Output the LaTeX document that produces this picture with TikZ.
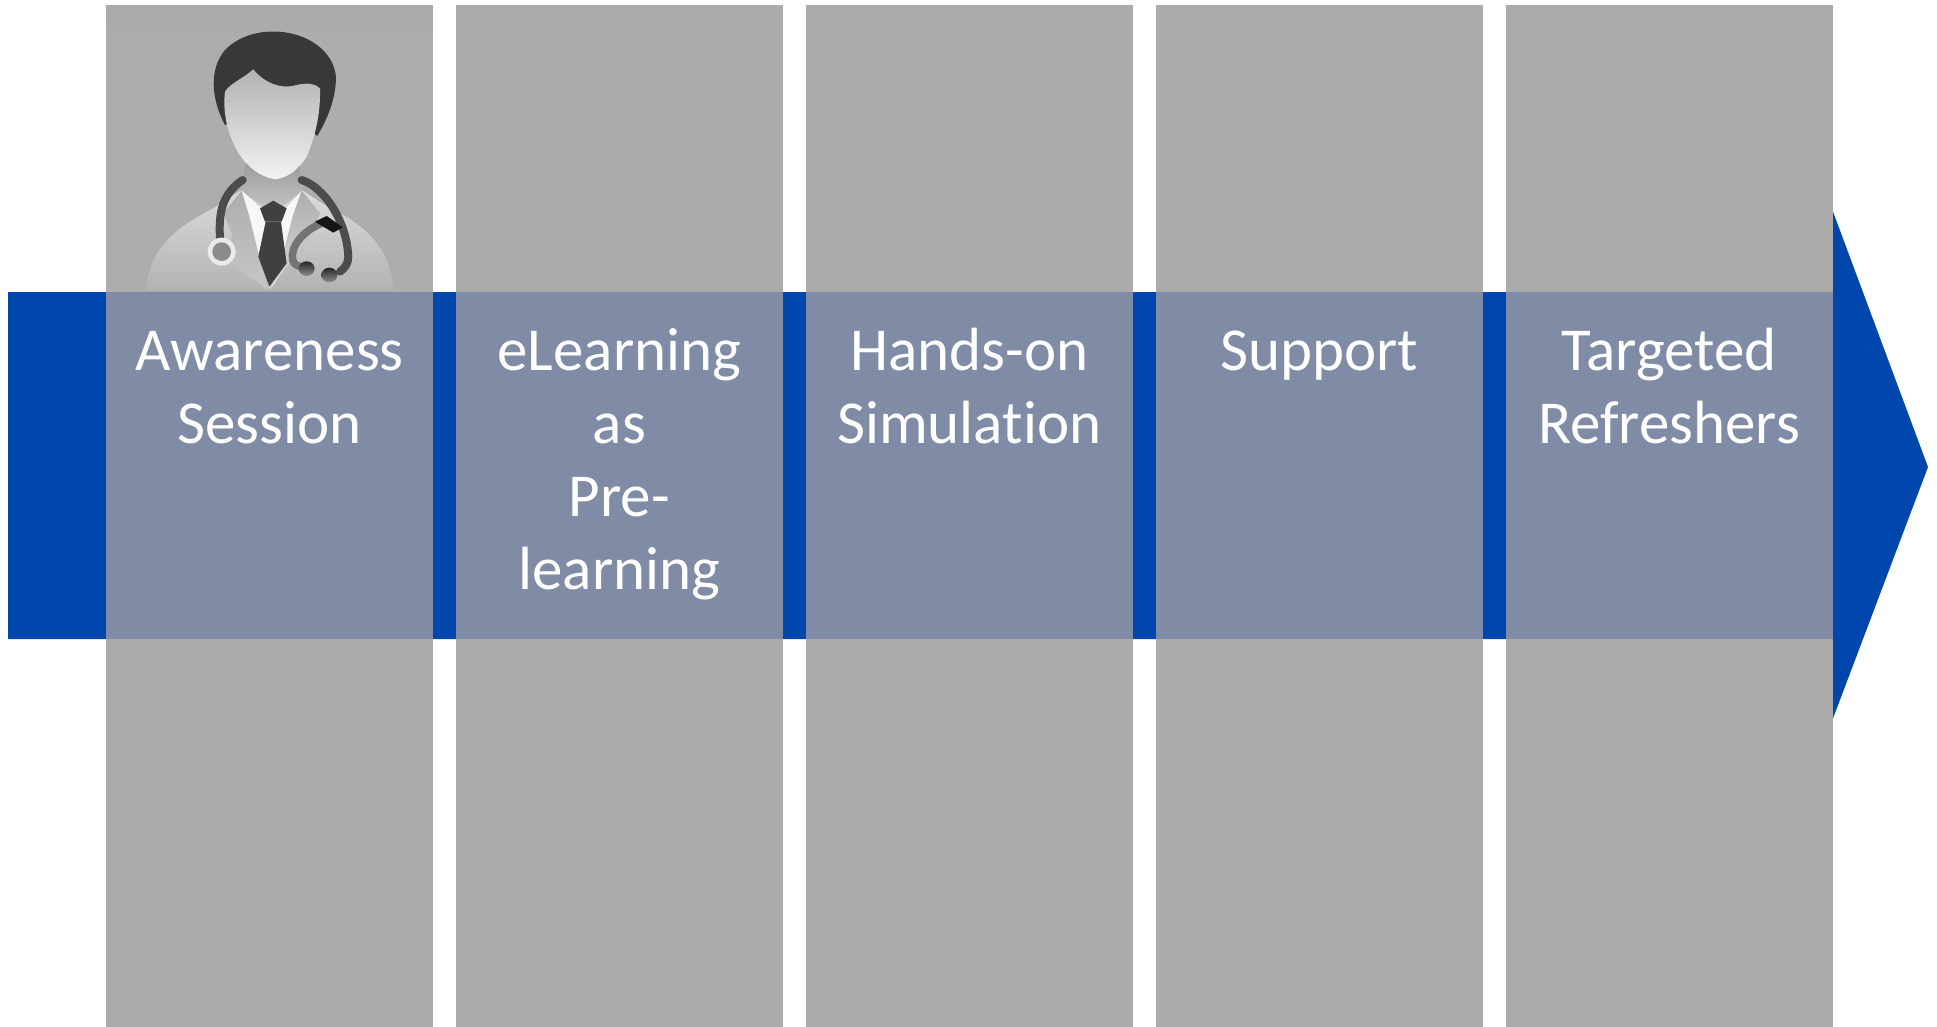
\documentclass[tikz,border=0pt]{standalone}
\usepackage{fontspec}
\setmainfont[Ligatures=NoCommon]{Carlito}
\usetikzlibrary{positioning}
\definecolor{arrowblue}{RGB}{0,70,173}
\definecolor{panelgrey}{RGB}{171,171,171}
\definecolor{bandgrey}{RGB}{128,140,166}
\definecolor{portrait}{RGB}{175,172,172}
\begin{document}
\begin{tikzpicture}[x=1pt,y=-1pt,
    panelbox/.style = {rectangle, fill=panelgrey, minimum width=327pt, minimum height=1022pt, inner sep=0pt},
    bandbox/.style = {rectangle, fill=bandgrey, minimum width=327pt, minimum height=347pt, inner sep=0pt},
    steplabel/.style = {text=white, text width=300pt, align=center, inner sep=0pt, font=\fontsize{61}{73}\selectfont},
    hair/.style = {fill=black!78},
    tube/.style = {draw=black!70, line width=8pt, line cap=round}]
     \useasboundingbox (0,0) rectangle (1937,1027);

     \coordinate (tail top) at (8,292);
     \coordinate (tail bottom) at (8,639);
     \coordinate (neck top) at (1832,292);
     \coordinate (neck bottom) at (1832,639);
     \coordinate (head top) at (1832,209);
     \coordinate (head bottom) at (1832,721);
     \coordinate (tip) at (1928,467);
     \fill[arrowblue] (tail top)--(neck top)--(head top)--(tip)--(head bottom)--(neck bottom)--(tail bottom)--cycle;

     \node[panelbox] (p1) at (269.5,516) {};
     \node[panelbox] (p2) [right=22.5pt of p1] {};
     \node[panelbox] (p3) [right=22.5pt of p2] {};
     \node[panelbox] (p4) [right=22.5pt of p3] {};
     \node[panelbox] (p5) [right=22.5pt of p4] {};

     \node[bandbox] (b1) at (p1 |- 0,465.5) {};
     \node[bandbox] (b2) [right=22.5pt of b1] {};
     \node[bandbox] (b3) [right=22.5pt of b2] {};
     \node[bandbox] (b4) [right=22.5pt of b3] {};
     \node[bandbox] (b5) [right=22.5pt of b4] {};

     \node[steplabel, anchor=north] (t1) at ([yshift=-27.5pt]b1.north) {\strut Awareness\\Session};
     \node[steplabel, anchor=north] (t2) at ([yshift=-27.5pt]b2.north) {\strut eLearning\\as\\Pre-\\learning};
     \node[steplabel, anchor=north] (t3) at ([yshift=-27.5pt]b3.north) {\strut Hands-on\\Simulation};
     \node[steplabel, anchor=north] (t4) at ([yshift=-27.5pt]b4.north) {\strut Support};
     \node[steplabel, anchor=north] (t5) at ([yshift=-27.5pt]b5.north) {\strut Targeted\\Refreshers};

     \begin{scope}[shift={(90,0)},x=0.3333pt,y=-0.3333pt]
     \fill[portrait] (48,90) rectangle (1028,875);
     \shade[top color=black!14, bottom color=black!30] (168,872) .. controls (175,760) and (240,690) .. (370,625) -- (455,570) -- (635,570) -- (720,625) .. controls (840,680) and (905,760) .. (910,872) -- cycle;
     \shade[top color=black!40, bottom color=black!22] (468,480) -- (628,480) -- (636,575) -- (550,640) -- (455,575) -- cycle;
     \fill[black!3] (455,572) -- (510,622) -- (550,625) -- (590,622) -- (635,572) -- (608,650) -- (585,740) -- (538,865) -- (505,760) -- (478,650) -- cycle;
     \shade[top color=black!32, bottom color=black!22] (455,572) -- (400,640) -- (425,700) -- (420,790) -- (535,870) -- (505,760) -- (478,650) -- cycle;
     \shade[top color=black!32, bottom color=black!14] (635,572) -- (690,640) -- (660,710) -- (610,770) -- (540,870) -- (585,740) -- (608,650) -- cycle;
     \fill[black!75] (510,625) -- (550,602) -- (590,625) -- (575,665) -- (525,665) -- cycle;
     \fill[black!75] (527,665) -- (573,665) -- (590,790) -- (538,860) -- (505,770) -- cycle;
     \fill[hair] (405,375) .. controls (365,300) and (355,210) .. (405,150) .. controls (450,105) and (510,92) .. (565,95) .. controls (650,100) and (730,150) .. (738,230) .. controls (738,300) and (710,360) .. (682,408) -- (560,300) -- cycle;
     \shade[top color=black!30, bottom color=black!5] (490,208) .. controls (520,245) and (570,270) .. (620,255) .. controls (650,248) and (675,250) .. (690,265) .. controls (692,330) and (680,400) .. (650,470) .. controls (625,510) and (590,535) .. (555,538) .. controls (510,530) and (465,500) .. (435,440) .. controls (410,390) and (398,330) .. (405,275) .. controls (420,250) and (460,235) .. (490,208) -- cycle;
     \draw[tube] (458,540) .. controls (400,580) and (385,630) .. (390,715);
     \draw[tube] (635,540) .. controls (700,560) and (770,660) .. (775,770) .. controls (775,790) and (765,805) .. (750,815);
     \fill[black!8] (395,755) circle (42);
     \fill[black!45] (395,755) circle (28);
     \draw[draw=black!55, line width=7.5pt] (700,668) .. controls (640,690) and (600,740) .. (608,780) .. controls (612,795) and (625,800) .. (640,800);
     \fill[black!92] (675,665) -- (710,648) -- (758,682) -- (730,698) -- cycle;
     \shade[top color=black!85, bottom color=black!45] (650,806) ellipse (24 and 22);
     \shade[top color=black!85, bottom color=black!45] (718,825) ellipse (24 and 22);
     \end{scope}
\end{tikzpicture}
\end{document}
